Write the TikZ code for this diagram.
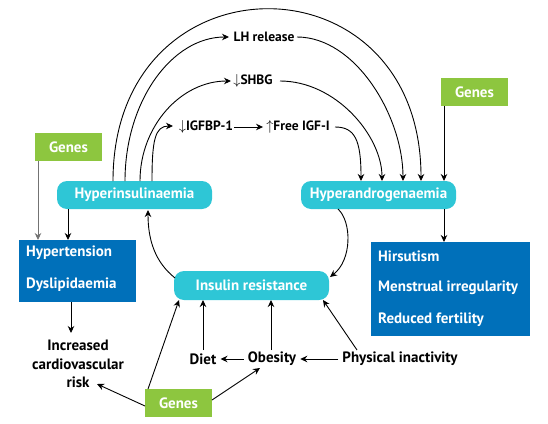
\documentclass[tikz,border=0pt]{standalone}
\usepackage{fontspec}
\setmainfont{PT Sans}
\usetikzlibrary{arrows.meta}
\definecolor{cyanbox}{RGB}{46,198,214}
\definecolor{bluebox}{RGB}{0,112,186}
\definecolor{greenbox}{RGB}{141,198,63}
\tikzset{
  cbox/.style={fill=cyanbox, rounded corners=10pt, minimum width=155pt, minimum height=28pt, inner sep=0pt, text=white, font=\fontsize{15}{17}\selectfont\bfseries},
  gbox/.style={fill=greenbox, minimum width=67pt, minimum height=28pt, inner sep=0pt, text=white, font=\fontsize{15}{17}\selectfont\bfseries},
  bbox/.style={fill=bluebox, inner sep=0pt},
  btxt/.style={text=white, anchor=west, inner sep=0pt, font=\fontsize{15}{17}\selectfont\bfseries},
  lbl/.style={inner sep=0pt, font=\fontsize{15}{17}\selectfont\bfseries},
  tlbl/.style={inner sep=0pt, font=\fontsize{13.5}{15}\selectfont\bfseries},
  arr/.style={-{Stealth[length=7pt,width=6.5pt]}, line width=0.9pt, black},
}
\begin{document}
\begin{tikzpicture}[x=1pt,y=-1pt]
\useasboundingbox (0,0) rectangle (548,423);
% boxes
\node[cbox] (hins) at (134.5,195) {Hyperinsulinaemia};
\node[cbox] (hand) at (378.5,195) {Hyperandrogenaemia};
\node[cbox, minimum height=29pt] (ir) at (251.5,285.5) {Insulin resistance};
\node[gbox] (g1) at (68.5,147) {Genes};
\node[gbox] (g2) at (474.5,92) {Genes};
\node[gbox] (g3) at (178.5,403) {Genes};
\node[bbox, minimum width=117pt, minimum height=62pt] (lb) at (77.5,271) {};
\node[btxt] (hyp) at (26,253) {Hypertension};
\node[btxt] (dys) at (26,285) {Dyslipidaemia};
\node[bbox, minimum width=159pt, minimum height=94pt] (rb) at (450.5,289) {};
\node[btxt] (hir) at (378,256) {Hirsutism};
\node[btxt] (men) at (378,288) {Menstrual irregularity};
\node[btxt] (red) at (378,320) {Reduced fertility};
% labels
\node[tlbl] (lh) at (264,37) {LH release};
\node[tlbl] (shbg) at (253,81) {$\downarrow$SHBG};
\node[tlbl] (igfbp) at (206,127) {$\downarrow$IGFBP-1};
\node[tlbl] (igf) at (298,127) {$\uparrow$Free IGF-I};
\node[lbl, align=center, font=\fontsize{15}{18.5}\selectfont\bfseries] (risk) at (78,364) {Increased\\cardiovascular\\risk};
\node[lbl] (diet) at (203,359) {Diet};
\node[lbl] (ob) at (272,359) {Obesity};
\node[lbl] (pi) at (400,359) {Physical inactivity};
% coordinates
\coordinate (a1) at (113,181);
\coordinate (a2) at (125,181);
\coordinate (a3) at (140,181);
\coordinate (a4) at (152,181);
\coordinate (b1) at (361,181);
\coordinate (b2) at (382,181);
\coordinate (b3) at (403,181);
\coordinate (b4) at (421,181);
\coordinate (lhl) at (229,37);
\coordinate (lhr) at (297,37);
\coordinate (shl) at (231,81);
\coordinate (shr) at (280,81);
\coordinate (igl) at (173,126);
\coordinate (igfr) at (335,127);
% curves from hyperinsulinaemia
\draw[arr] (a1) .. controls (113,-48) and (421,-48) .. (b4);
\draw[arr] (a2) .. controls (125,101) and (172,37) .. (lhl);
\draw[arr] (lhr) .. controls (356,37) and (403,117) .. (b3);
\draw[arr] (a3) .. controls (140,126) and (181,81) .. (shl);
\draw[arr] (shr) .. controls (336,81) and (382,136) .. (b2);
\draw[arr] (a4) .. controls (152,140) and (155,126) .. (igl);
\draw[arr] ([xshift=1pt]igfbp.east) -- ([xshift=-3pt]igf.west);
\draw[arr] (igfr) .. controls (355,127) and (361,140) .. (b1);
% side arrows
\draw[arr, draw=black!55] (g1.south -| 38,0) -- (38,240);
\draw[arr] (68,209) -- (68,240);
\draw[arr] (g2.south -| 444,0) -- (b4 -| 444,0);
\draw[arr] (444,209) -- (444,242);
\draw[arr] (71,302) -- (71,333);
\draw[arr] (338,209) .. controls (352,222) and (352,260) .. (330,277);
\draw[arr] (175,278) .. controls (155,262) and (148,240) .. (148,210);
% bottom
\draw[arr] (203,350) -- (203,300);
\draw[arr] (271,350) -- (271,300);
\draw[arr] (357,350) -- (323,300);
\draw[arr] ([xshift=-4pt]ob.west) -- ([xshift=4pt]diet.east);
\draw[arr] ([xshift=-4pt]pi.west) -- ([xshift=4pt]ob.east);
\draw[arr] (148,389) -- (179,300);
\draw[arr] (212,400) -- (260,368);
\draw[arr] (145,406) -- (97,384);
\end{tikzpicture}
\end{document}
